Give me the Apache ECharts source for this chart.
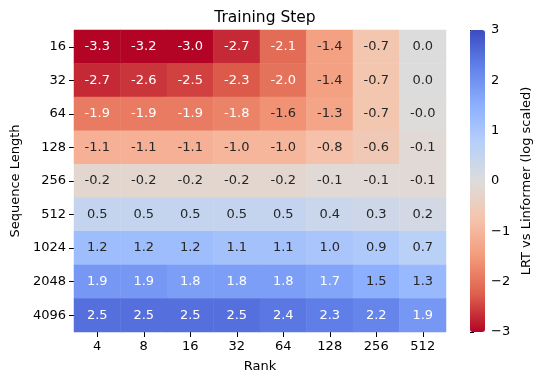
<!DOCTYPE html>
<html>
<head>
<meta charset="utf-8">
<script src="https://cdn.jsdelivr.net/npm/echarts@6/dist/echarts.min.js"></script>
<style>html,body{margin:0;padding:0;background:#fff}#c{width:544px;height:385px}</style>
</head>
<body>
<div id="c"></div>
<script>
var ranks = ['4', '8', '16', '32', '64', '128', '256', '512'];
var seqLens = ['16', '32', '64', '128', '256', '512', '1024', '2048', '4096'];
var row16   = [-3.3, -3.2, -3.0, -2.7, -2.1, -1.4, -0.7, 0.0];
var row32   = [-2.7, -2.6, -2.5, -2.3, -2.0, -1.4, -0.7, 0.0];
var row64   = [-1.9, -1.9, -1.9, -1.8, -1.6, -1.3, -0.7, -0.01];
var row128  = [-1.1, -1.1, -1.1, -1.0, -1.0, -0.8, -0.6, -0.1];
var row256  = [-0.2, -0.2, -0.2, -0.2, -0.2, -0.1, -0.1, -0.1];
var row512  = [0.5, 0.5, 0.5, 0.5, 0.5, 0.4, 0.3, 0.2];
var row1024 = [1.2, 1.2, 1.2, 1.1, 1.1, 1.0, 0.9, 0.7];
var row2048 = [1.9, 1.9, 1.8, 1.8, 1.8, 1.7, 1.5, 1.3];
var row4096 = [2.5, 2.5, 2.5, 2.5, 2.4, 2.3, 2.2, 1.9];
var rows = [row16, row32, row64, row128, row256, row512, row1024, row2048, row4096];
var cbarTicks = [-3, -2, -1, 0, 1, 2, 3];

var FONT = 'DejaVu Sans';
var data = [];
rows.forEach(function (r, i) {
  r.forEach(function (v, j) {
    data.push({
      value: [j, i, v],
      label: { color: Math.abs(v) >= 1.7 ? '#ffffff' : '#262626' }
    });
  });
});

var chart = echarts.init(document.getElementById('c'), null, { renderer: 'canvas' });
chart.setOption({
  animation: false,
  backgroundColor: '#ffffff',
  title: {
    text: 'Training Step',
    left: 260, top: 5, textAlign: 'center',
    textStyle: { fontFamily: FONT, fontSize: 15.5, fontWeight: 'normal', color: '#000' }
  },
  grid: [
    { left: 74, top: 30, width: 372, height: 302 },
    { left: 470, top: 30, width: 15, height: 302 }
  ],
  xAxis: [
    {
      type: 'category', data: ranks, gridIndex: 0,
      name: 'Rank', nameLocation: 'middle', nameGap: 28,
      nameTextStyle: { fontFamily: FONT, fontSize: 13, color: '#000' },
      axisLine: { show: false },
      axisTick: { show: true, alignWithLabel: true, length: 5, lineStyle: { color: '#000', width: 1 } },
      axisLabel: { fontFamily: FONT, fontSize: 13, color: '#000', margin: 8 },
      splitLine: { show: false }
    },
    { type: 'value', gridIndex: 1, show: false, min: 0, max: 1,
      axisLine: { show: false }, axisTick: { show: false }, axisLabel: { show: false }, splitLine: { show: false } }
  ],
  yAxis: [
    {
      type: 'category', data: seqLens, inverse: true, gridIndex: 0,
      name: 'Sequence Length', nameLocation: 'middle', nameGap: 50, nameRotate: 90,
      nameTextStyle: { fontFamily: FONT, fontSize: 13, color: '#000' },
      axisLine: { show: false },
      axisTick: { show: true, alignWithLabel: true, length: 5, lineStyle: { color: '#000', width: 1 } },
      axisLabel: { fontFamily: FONT, fontSize: 13, color: '#000', margin: 8 },
      splitLine: { show: false }
    },
    {
      type: 'value', gridIndex: 1, position: 'right', min: cbarTicks[0], max: cbarTicks[cbarTicks.length - 1], interval: 1,
      name: 'LRT vs Linformer (log scaled)', nameLocation: 'middle', nameGap: 35, nameRotate: 90,
      nameTextStyle: { fontFamily: FONT, fontSize: 13, color: '#000' },
      axisLine: { show: false },
      axisTick: { show: true, length: 4, lineStyle: { color: '#000', width: 1 } },
      axisLabel: {
        fontFamily: FONT, fontSize: 13, color: '#000', margin: 6,
        formatter: function (v) { return v < 0 ? '\u2212' + Math.abs(v) : String(v); }
      },
      splitLine: { show: false }
    }
  ],
  visualMap: {
    type: 'continuous', seriesIndex: 0, min: -3, max: 3,
    orient: 'vertical', left: 470, top: 30, itemWidth: 15, itemHeight: 302,
    padding: 0, calculable: false, hoverLink: false, realtime: false,
    indicatorSize: 0, indicatorIcon: 'none',
    indicatorStyle: { opacity: 0, borderWidth: 0, shadowBlur: 0 },
    handleStyle: { opacity: 0 },
    inRange: { color: ['#b40426', '#de604d', '#f49a7b', '#f5c4ad', '#dddcdc', '#b8d0f9', '#8db0fe', '#6282ea', '#3b4cc0'] }
  },
  series: [{
    type: 'heatmap', xAxisIndex: 0, yAxisIndex: 0,
    data: data,
    label: {
      show: true, fontFamily: FONT, fontSize: 13,
      formatter: function (p) { return p.value[2].toFixed(1); }
    },
    itemStyle: { borderWidth: 0 },
    emphasis: { disabled: true }
  }]
});
</script>
</body>
</html>
